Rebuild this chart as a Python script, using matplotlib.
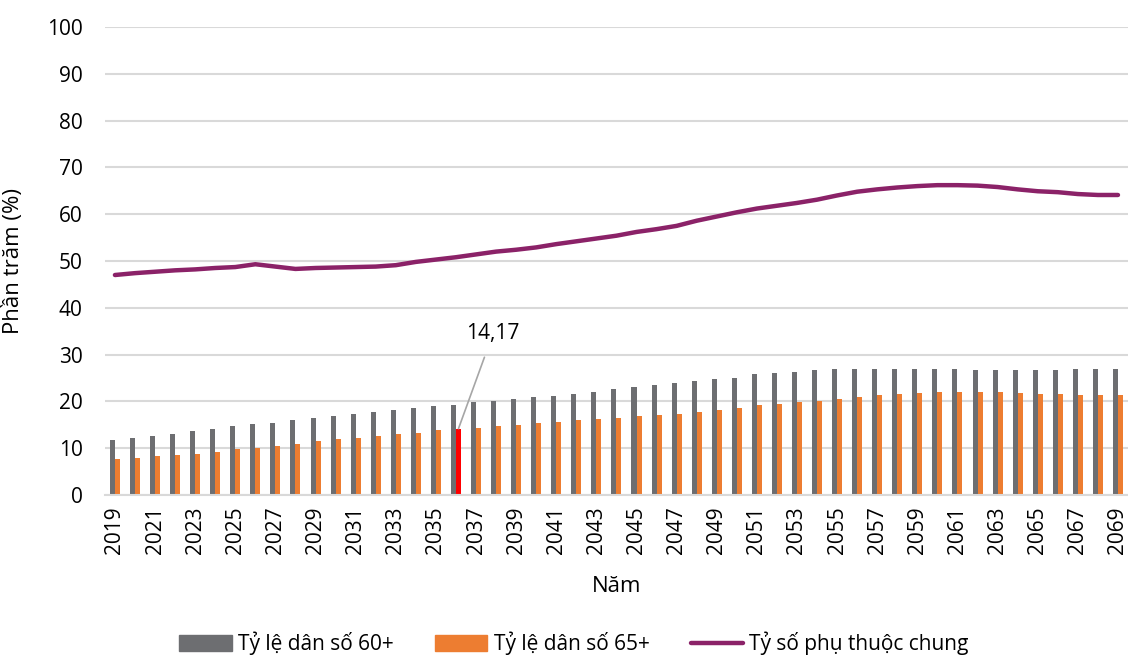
import numpy as np
import matplotlib
matplotlib.use("Agg")
import matplotlib.pyplot as plt
from matplotlib.patches import Patch
from matplotlib.lines import Line2D

plt.rcParams['font.family'] = ['Open Sans', 'DejaVu Sans']

years = list(range(2019, 2070))

# Tỷ lệ dân số 60+ (%)
pop60 = [11.75, 12.2, 12.7, 13.0, 13.6, 14.0, 14.7, 15.1, 15.45, 15.95,
         16.4, 16.8, 17.3, 17.7, 18.2, 18.5, 18.95, 19.3, 19.8, 20.1,
         20.4, 20.9, 21.15, 21.6, 22.1, 22.6, 23.15, 23.5, 23.9, 24.4,
         24.7, 25.1, 25.8, 26.1, 26.35, 26.7, 26.85, 27.0, 27.0, 27.0,
         26.85, 26.85, 26.85, 26.7, 26.7, 26.7, 26.7, 26.7, 26.85, 26.85,
         27.0]

# Tỷ lệ dân số 65+ (%)
pop65 = [7.6, 7.9, 8.3, 8.55, 8.8, 9.25, 9.8, 10.0, 10.5, 10.95,
         11.5, 12.0, 12.2, 12.5, 13.0, 13.25, 13.8, 14.17, 14.4, 14.7,
         14.95, 15.3, 15.6, 15.95, 16.2, 16.5, 16.9, 17.0, 17.3, 17.7,
         18.2, 18.65, 19.15, 19.4, 19.8, 20.1, 20.5, 20.9, 21.3, 21.6,
         21.8, 21.9, 21.9, 21.9, 21.9, 21.8, 21.6, 21.6, 21.4, 21.4,
         21.4]

# Tỷ số phụ thuộc chung (%)
dependency = [47.0, 47.4, 47.7, 48.0, 48.2, 48.5, 48.7, 49.3, 48.8, 48.3,
              48.5, 48.6, 48.7, 48.8, 49.1, 49.8, 50.3, 50.8, 51.4, 52.0,
              52.4, 52.9, 53.6, 54.2, 54.8, 55.4, 56.2, 56.8, 57.5, 58.6,
              59.5, 60.4, 61.2, 61.8, 62.4, 63.1, 64.0, 64.8, 65.3, 65.7,
              66.0, 66.2, 66.2, 66.1, 65.8, 65.3, 64.9, 64.7, 64.3, 64.1,
              64.1]

highlight_year = 2036

c_gray = '#6D6E71'
c_orange = '#ED7D31'
c_red = '#FF0000'
c_purple = '#8B2268'
c_grid = '#D9D9D9'

x = np.arange(len(years))
w = 0.25

fig = plt.figure(figsize=(11.28, 6.66), dpi=100)
ax = fig.add_axes([0.093, 0.2568, 0.907, 0.7027])

hi = years.index(highlight_year)
orange_colors = [c_red if i == hi else c_orange for i in range(len(years))]

ax.bar(x - w / 2, pop60, width=w, color=c_gray, zorder=2)
ax.bar(x + w / 2, pop65, width=w, color=orange_colors, zorder=2)
ax.plot(x, dependency, color=c_purple, lw=3.2, solid_capstyle='round', zorder=3)

# value label for the highlighted bar
ax.annotate(f"{pop65[hi]:.2f}".replace('.', ','),
            xy=(hi + w / 2, pop65[hi]), xytext=(hi + 1.85, 34.5),
            ha='center', va='center', fontsize=15,
            arrowprops=dict(arrowstyle='-', color='#A6A6A6', lw=1.2,
                            shrinkA=8, shrinkB=0))

ax.set_xlim(-0.5, len(years) - 0.5)
ax.set_ylim(0, 100)
ax.set_yticks(range(0, 101, 10))
ax.set_xticks(x[::2])
ax.set_xticklabels([str(y) for y in years[::2]], rotation=90)
ax.tick_params(axis='both', length=0, labelsize=15)
ax.tick_params(axis='y', pad=16)
ax.tick_params(axis='x', pad=8)
ax.yaxis.grid(True, color=c_grid, lw=1.5, zorder=0)
ax.set_axisbelow(True)
for s in ['top', 'right', 'left']:
    ax.spines[s].set_visible(False)
ax.spines['bottom'].set_color(c_grid)
ax.spines['bottom'].set_linewidth(1.5)

ax.set_ylabel('Phần trăm (%)', fontsize=16)
ax.yaxis.set_label_coords(-0.079, 0.5)
ax.set_xlabel('Năm', fontsize=16, labelpad=16)

handles = [Patch(color=c_gray, label='Tỷ lệ dân số 60+'),
           Patch(color=c_orange, label='Tỷ lệ dân số 65+'),
           Line2D([], [], color=c_purple, lw=3.2, solid_capstyle='round',
                  label='Tỷ số phụ thuộc chung')]
fig.legend(handles=handles, loc='lower center', bbox_to_anchor=(0.509, -0.012),
           ncol=3, frameon=False, fontsize=15, handlelength=2.5,
           handleheight=0.75, handletextpad=0.3, columnspacing=2.0)

fig.savefig('out.png', dpi=100)
